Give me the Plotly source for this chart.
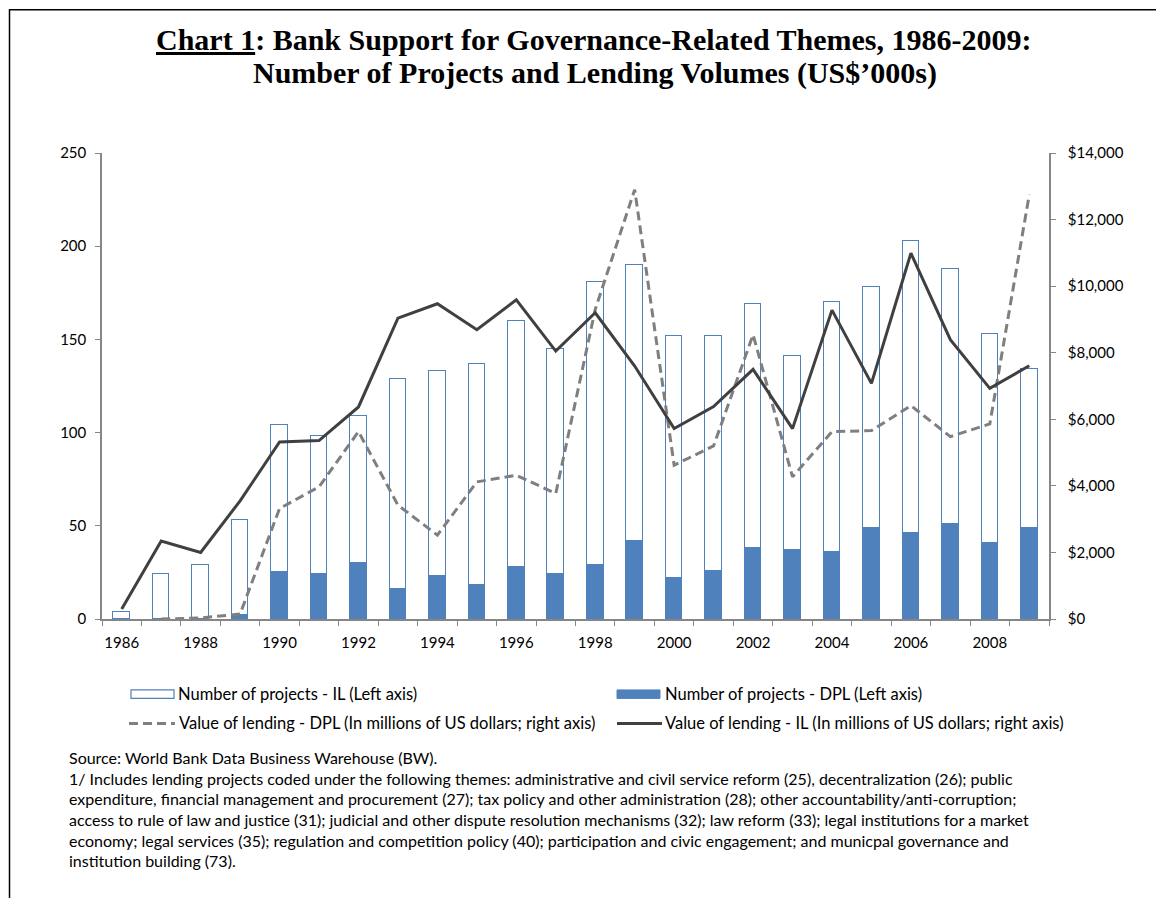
import plotly.graph_objects as go

# ---- data -------------------------------------------------------------
years = list(range(1986, 2010))
dpl_projects = [0, 0, 0, 2, 25, 24, 30, 16, 23, 18, 28, 24,
                29, 42, 22, 26, 38, 37, 36, 49, 46, 51, 41, 49]
il_projects = [4, 24, 29, 51, 79, 74, 79, 113, 110, 119, 132, 121,
               152, 148, 130, 126, 131, 104, 134, 129, 157, 137, 112, 85]
il_lending = [300, 2340, 2000, 3550, 5320, 5360, 6370, 9040, 9470, 8690, 9590, 8050,
              9200, 7600, 5720, 6380, 7500, 5720, 9280, 7080, 10990, 8390, 6930, 7610]
dpl_lending = [None, 0, 30, 150, 3320, 3970, 5630, 3420, 2520, 4120, 4320, 3770,
               9300, 12900, 4620, 5200, 8540, 4270, 5630, 5660, 6410, 5480, 5860, 12750]
x_labels = [str(y) for y in range(1986, 2010, 2)]

BLUE = "#4F81BD"
DARK = "#404040"
GREY = "#7F7F7F"
AXIS = "#868686"
TXT_FONT = "Lato"

# plot-area edges in pixels (used to place annotations in paper space)
W, H = 1156, 898
L, R, T, B = 102, 1049, 153, 619.5


def fx(px):
    return (px - L) / (R - L)


def fy(py):
    return (B - py) / (B - T)


fig = go.Figure()

fig.add_trace(go.Bar(
    x=years, y=dpl_projects, width=0.42, name="Number of projects - DPL (Left axis)",
    marker=dict(color=BLUE, line=dict(color=BLUE, width=1)), showlegend=False,
))
fig.add_trace(go.Bar(
    x=years, y=il_projects, width=0.42, name="Number of projects - IL (Left axis)",
    marker=dict(color="white", line=dict(color=BLUE, width=1.2)), showlegend=False,
))
fig.add_trace(go.Scatter(
    x=years, y=dpl_lending, yaxis="y2", mode="lines", connectgaps=False,
    name="Value of lending - DPL (In millions of US dollars; right axis)",
    line=dict(color=GREY, width=3, dash="9px,5px"), showlegend=False,
))
fig.add_trace(go.Scatter(
    x=years, y=il_lending, yaxis="y2", mode="lines",
    name="Value of lending - IL (In millions of US dollars; right axis)",
    line=dict(color=DARK, width=3), showlegend=False,
))

tick_font = dict(family=TXT_FONT, size=15, color="black")

fig.update_layout(
    width=W, height=H,
    margin=dict(l=L, r=W - R, t=T, b=H - B, pad=0),
    paper_bgcolor="white", plot_bgcolor="white",
    barmode="stack", bargap=0,
    xaxis=dict(
        range=[1985.5, 2009.5], tickmode="array",
        tickvals=list(range(1986, 2010, 2)), ticktext=x_labels,
        ticks="", showgrid=False, zeroline=False,
        showline=True, linecolor=AXIS, linewidth=1.5,
        tickfont=tick_font, ticklabelstandoff=9,
        minor=dict(tick0=1985.5, dtick=1, ticks="outside", ticklen=5,
                   tickcolor=AXIS, tickwidth=1, showgrid=False),
    ),
    yaxis=dict(
        range=[0, 250], dtick=50, ticks="outside", ticklen=5, tickcolor=AXIS,
        showgrid=False, zeroline=False, showline=True, linecolor=AXIS, linewidth=1.5,
        tickfont=tick_font, ticklabelstandoff=6,
    ),
    yaxis2=dict(
        range=[0, 14000], dtick=2000, overlaying="y", side="right",
        tickformat="$,.0f", ticks="outside", ticklen=5, tickcolor=AXIS,
        showgrid=False, zeroline=False, showline=True, linecolor=AXIS, linewidth=1.5,
        tickfont=tick_font, ticklabelstandoff=9,
    ),
    showlegend=False,
)

# ---- title ------------------------------------------------------------
title_font = dict(family="Liberation Serif", size=30, color="black")
fig.add_annotation(text="<b><u>Chart 1</u>: Bank Support for Governance-Related Themes, 1986-2009:</b>",
                   xref="paper", yref="paper", x=fx(594), y=fy(39), showarrow=False,
                   xanchor="center", yanchor="middle", font=title_font)
fig.add_annotation(text="<b>Number of Projects and Lending Volumes (US$\u2019000s)</b>",
                   xref="paper", yref="paper", x=fx(595), y=fy(73), showarrow=False,
                   xanchor="center", yanchor="middle", font=title_font)

# ---- legend (drawn by hand in two columns) ---------------------------
leg_font = dict(family=TXT_FONT, size=16.5, color="black")
fig.add_shape(type="rect", xref="paper", yref="paper",
              x0=fx(131), x1=fx(174), y0=fy(699), y1=fy(690.5),
              fillcolor="white", line=dict(color=BLUE, width=1.2))
fig.add_shape(type="rect", xref="paper", yref="paper",
              x0=fx(617), x1=fx(660), y0=fy(699), y1=fy(690.5),
              fillcolor=BLUE, line=dict(color=BLUE, width=1))
fig.add_shape(type="line", xref="paper", yref="paper",
              x0=fx(129), x1=fx(175), y0=fy(724), y1=fy(724),
              line=dict(color=GREY, width=3, dash="9px,5px"))
fig.add_shape(type="line", xref="paper", yref="paper",
              x0=fx(617), x1=fx(662), y0=fy(724), y1=fy(724),
              line=dict(color=DARK, width=3))
legend_items = [
    ("Number of projects - IL (Left axis)", 176, 695),
    ("Number of projects - DPL (Left axis)", 663, 695),
    ("Value of lending - DPL (In millions of US dollars; right axis)", 177, 724),
    ("Value of lending - IL (In millions of US dollars; right axis)", 663, 724),
]
for label, px, py in legend_items:
    fig.add_annotation(text=label, xref="paper", yref="paper", x=fx(px), y=fy(py),
                       showarrow=False, xanchor="left", yanchor="middle", font=leg_font)

# ---- source note --------------------------------------------------------
note_lines = [
    "Source: World Bank Data Business Warehouse (BW).",
    "1/ Includes lending projects coded under the following themes: administrative and civil service reform (25), decentralization (26); public",
    "expenditure, financial management and procurement (27); tax policy and other administration (28); other accountability/anti-corruption;",
    "access to rule of law and justice (31); judicial and other dispute resolution mechanisms (32); law reform (33); legal institutions for a market",
    "economy; legal services (35); regulation and competition policy (40); participation and civic engagement; and municpal governance and",
    "institution building (73).",
]
note_font = dict(family=TXT_FONT, size=16, color="black")
for i, line in enumerate(note_lines):
    fig.add_annotation(text=line, xref="paper", yref="paper", x=fx(67), y=fy(758 + i * 20.7),
                       showarrow=False, xanchor="left", yanchor="middle", font=note_font)

# ---- outer frame ------------------------------------------------------
fig.add_shape(type="rect", xref="paper", yref="paper",
              x0=fx(9.5), x1=fx(1170), y0=fy(905), y1=fy(9.5),
              line=dict(color="black", width=1.5), fillcolor="rgba(0,0,0,0)")

fig.write_html("out.html")
